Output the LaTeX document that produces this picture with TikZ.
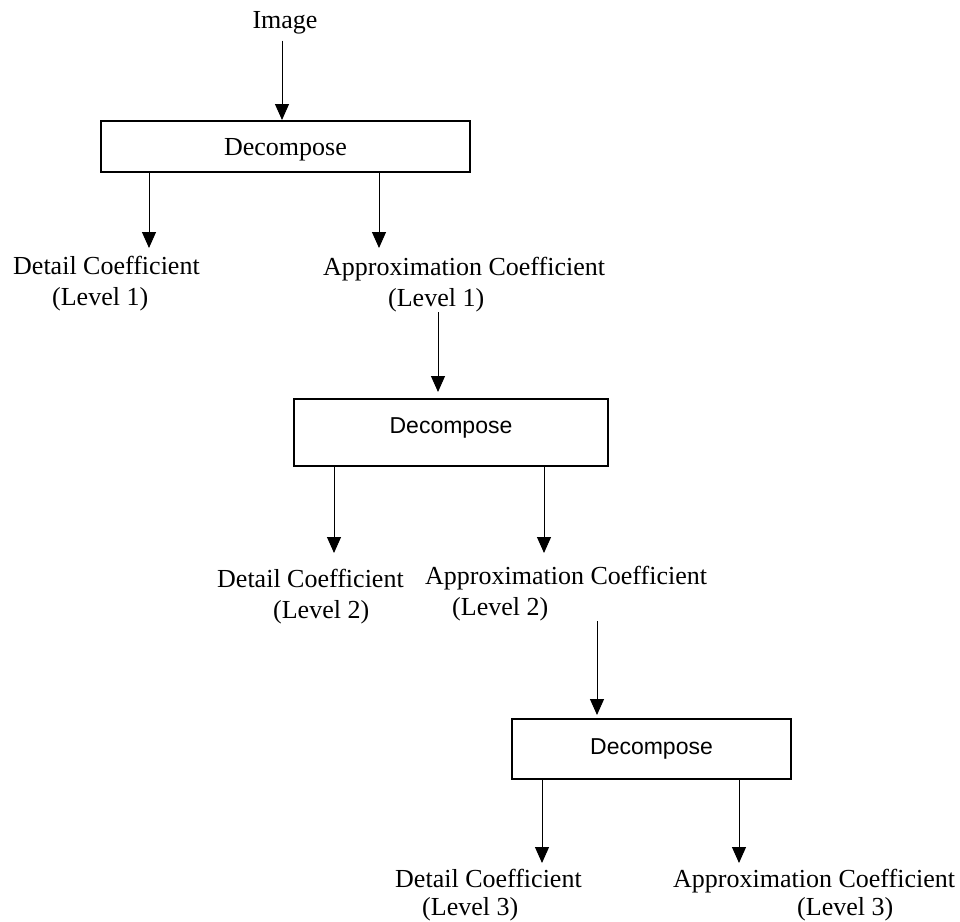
\documentclass[tikz,border=0pt]{standalone}
\usepackage{fontspec}
\setmainfont{Liberation Serif}
\setsansfont{Liberation Sans}
\usetikzlibrary{arrows.meta, positioning}

\begin{document}
\begin{tikzpicture}[
    x=1pt, y=-1pt,
    title_node/.style={
        inner sep=6pt,
        font=\fontsize{26}{31}\selectfont
    },
    serif_box/.style={
        rectangle,
        draw=black,
        line width=2pt,
        minimum width=369pt,
        minimum height=51pt,
        text depth=0pt,
        font=\fontsize{26}{31}\selectfont
    },
    sans_box/.style={
        rectangle,
        draw=black,
        line width=2pt,
        font=\sffamily\fontsize{23}{28}\selectfont
    },
    coef_node/.style={
        anchor=north west,
        inner sep=0pt,
        align=left,
        font=\fontsize{26}{31}\selectfont
    },
    arrow/.style={-{Triangle[length=16pt, width=14pt]}, line width=1pt, black}
]
    \useasboundingbox (0,0) rectangle (960,921);

    % Level 1
    \node[title_node] (img) at (285,23) {Image};
    \node[serif_box] (dec1) at (285.5,146.5) {Decompose};
    \node[coef_node] (det1) at (13,256) {Detail Coefficient\\\hspace*{39pt}(Level 1)};
    \node[coef_node] (app1) at (323,257) {Approximation Coefficient\\\hspace*{65pt}(Level 1)};

    % Level 2
    \node[sans_box, minimum width=314pt, minimum height=67pt, text height=17pt, text depth=15pt] (dec2) at (451,432.5) {Decompose};
    \node[coef_node] (det2) at (217,569) {Detail Coefficient\\\hspace*{56pt}(Level 2)};
    \node[coef_node] (app2) at (425,566) {Approximation Coefficient\\\hspace*{27pt}(Level 2)};

    % Level 3
    \node[sans_box, minimum width=279pt, minimum height=60pt] (dec3) at (651.5,749) {Decompose};
    \node[coef_node, font=\fontsize{26}{28}\selectfont] (det3) at (395,869) {Detail Coefficient\\\hspace*{27pt}(Level 3)};
    \node[coef_node, font=\fontsize{26}{28}\selectfont] (app3) at (673,869) {Approximation Coefficient\\\hspace*{124pt}(Level 3)};

    % Arrow ends
    \coordinate (det1_tip) at (149,248);
    \coordinate (app1_tip) at (379,248);
    \coordinate (dec2_in) at (438,392);
    \coordinate (det2_tip) at (334,553);
    \coordinate (app2_tip) at (544,553);
    \coordinate (dec3_in) at (597,715);
    \coordinate (det3_tip) at (542,863);
    \coordinate (app3_tip) at (739,863);

    % Arrows
    \draw[arrow] ([xshift=-3pt]img.south) -- ([xshift=-3.5pt]dec1.north);
    \draw[arrow] (dec1.south -| det1_tip) -- (det1_tip);
    \draw[arrow] (dec1.south -| app1_tip) -- (app1_tip);
    \draw[arrow] (app1.south -| dec2_in) -- (dec2_in);
    \draw[arrow] (dec2.south -| det2_tip) -- (det2_tip);
    \draw[arrow] (dec2.south -| app2_tip) -- (app2_tip);
    \draw[arrow] (app2.south -| dec3_in) -- (dec3_in);
    \draw[arrow] (dec3.south -| det3_tip) -- (det3_tip);
    \draw[arrow] (dec3.south -| app3_tip) -- (app3_tip);

\end{tikzpicture}
\end{document}
